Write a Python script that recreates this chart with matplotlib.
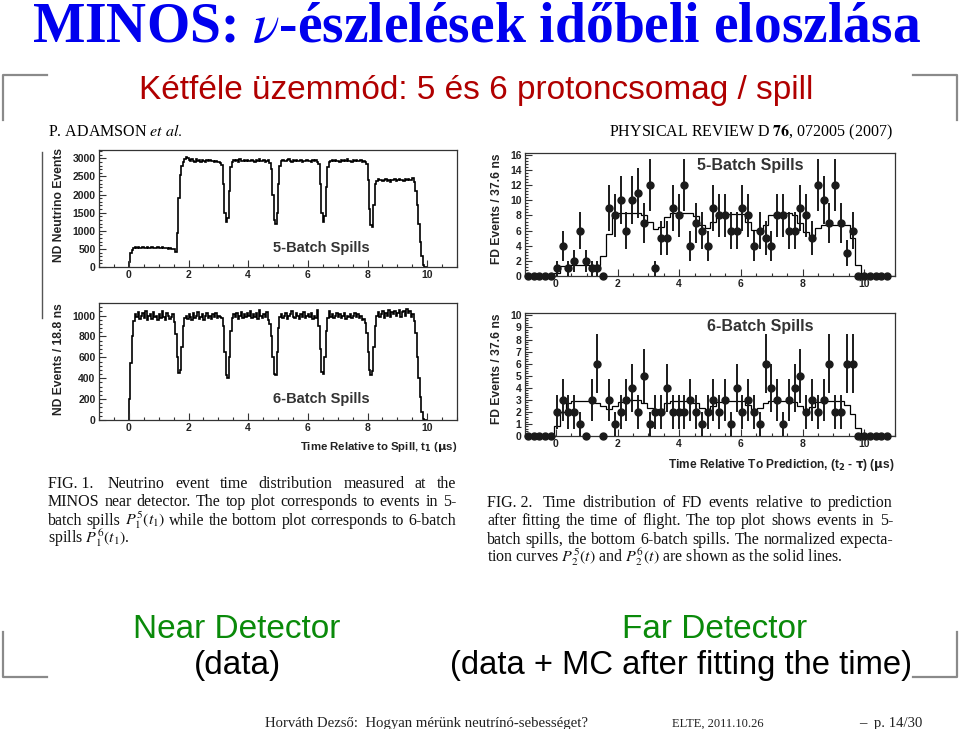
import numpy as np
import matplotlib
matplotlib.use('Agg')
import matplotlib.pyplot as plt
from matplotlib.ticker import MultipleLocator

# ---- data ----
# ND histograms, 0.05 us bins starting at t = 0
nd_t0, nd_dt = 0.0, 0.05
nd5_events = [
    150, 380, 470, 520, 540, 525, 545, 530, 520, 545, 535, 525, 540, 520, 530, 545, 525, 535, 520, 540,
    530, 515, 540, 525, 520, 535, 510, 525, 500, 505, 490, 420, 950, 1900, 2550, 2800, 2900, 2980, 3050, 3000,
    2960, 2920, 2990, 2940, 2910, 2970, 2930, 2950, 2900, 2960, 2940, 2910, 2950, 2930, 2960, 2920, 2940, 2900, 2930, 2910,
    2910, 2880, 2820, 2300, 1500, 1250, 1350, 2100, 2750, 2900, 2950, 2930, 2950, 2910, 2970, 2940, 2920, 2960, 2930, 2950,
    2940, 2920, 2960, 2930, 2910, 2950, 2930, 2970, 2920, 2940, 2960, 2910, 2930, 2950, 2880, 2700, 2000, 1300, 1180, 1500,
    2300, 2800, 2930, 2960, 2940, 2920, 2950, 2980, 2930, 2910, 2950, 2940, 2960, 2920, 2930, 2950, 2910, 2940, 2930, 2960,
    2920, 2940, 2910, 2950, 2930, 2960, 2900, 2850, 2300, 1500, 1250, 1400, 2200, 2750, 2900, 2940, 2960, 2920, 2950, 2930,
    2940, 2910, 2960, 2930, 2950, 2920, 2970, 2930, 2940, 2910, 2950, 2930, 2960, 2920, 2940, 2950, 2900, 2930, 2900, 2850,
    2400, 1600, 1150, 1100, 1700, 2300, 2380, 2420, 2390, 2410, 2370, 2400, 2430, 2380, 2400, 2360, 2410, 2390, 2420, 2380,
    2400, 2430, 2390, 2410, 2370, 2420, 2400, 2440, 2390, 2410, 2450, 2350, 2100, 1700, 1200, 700, 300, 50, 0, 0,
]
nd6_events = [
    200, 550, 800, 950, 1010, 990, 1030, 970, 1000, 1020, 980, 1040, 960, 1000, 1010, 970, 1030, 990, 1000, 960,
    1010, 980, 1040, 990, 960, 1020, 1000, 970, 990, 1010, 940, 820, 600, 450, 480, 700, 900, 980, 1000, 970,
    1010, 990, 960, 1020, 980, 1000, 1030, 970, 990, 1010, 960, 1000, 1020, 980, 1000, 970, 1010, 990, 1020, 980,
    1000, 990, 980, 900, 650, 430, 400, 600, 850, 980, 1010, 990, 1020, 970, 1000, 1030, 980, 1010, 990, 1020,
    1000, 1040, 980, 1010, 990, 1020, 970, 1050, 1000, 980, 1010, 990, 1030, 960, 920, 800, 600, 440, 430, 650,
    880, 990, 1010, 980, 1000, 1020, 970, 1000, 1010, 1040, 990, 980, 1020, 1000, 970, 1010, 990, 1030, 980, 1000,
    1010, 990, 1020, 970, 1000, 980, 1050, 900, 680, 460, 440, 600, 850, 980, 1040, 990, 1010, 980, 1000, 1020,
    990, 1010, 980, 1000, 1020, 970, 1000, 990, 1010, 980, 1000, 1020, 990, 1010, 980, 1000, 960, 970, 930, 830,
    650, 480, 430, 470, 700, 900, 1000, 1030, 990, 1010, 1040, 980, 1020, 1000, 1050, 990, 1030, 1010, 1040, 1000,
    1020, 1050, 990, 1030, 1040, 1000, 1060, 1020, 1040, 990, 1010, 950, 830, 600, 400, 220, 80, 10, 0, 0,
]

# FD, 0.188 us bins starting at t = -1
fd_t0, fd_dt = -1.0, 0.188
fd5_counts = [0, 0, 0, 0, 0,
              1, 4, 1, 2, 6, 2, 1, 1, 0,
              9, 8, 10, 6, 10, 11, 7, 12,
              1, 5, 5, 9, 8, 12, 4, 7,
              6, 4, 9, 8, 8, 6, 6, 9,
              8, 4, 6, 5, 4, 8, 8, 6,
              6, 9, 8, 5, 12, 10, 7, 12,
              7, 3, 6,
              0, 0, 0, 0, 0, 0]
fd5_mc = [0, 0, 0, 0, 0,
          0.4, 1.3, 1.5, 1.5, 1.5, 1.5, 1.5, 1.5,
          2.6, 5.6, 7.8, 8.3, 8.3, 8.3, 8.3,
          8.0, 7.2, 6.2, 6.5, 7.8, 8.3, 8.3, 8.3, 8.3,
          7.9, 6.8, 6.3, 7.2, 8.1, 8.2, 8.2, 8.2, 8.2,
          7.2, 6.1, 5.9, 6.8, 8.0, 8.3, 8.3, 8.3,
          8.1, 7.0, 5.8, 5.4, 6.3, 6.8, 6.8, 6.8, 6.8, 6.8,
          5.0, 1.5, 0.2, 0, 0, 0, 0, 0]
fd6_counts = [0, 0, 0, 0, 0,
              2, 3, 2, 2, 1, 0, 3, 6,
              0, 3, 1, 2, 3, 4, 2, 5,
              1, 2, 2, 4, 2, 2, 2, 3,
              2, 1, 2, 3, 2, 3, 1, 4,
              2, 3, 2, 1, 6, 4, 3, 1,
              3, 4, 5, 2, 3, 2, 3, 6,
              2, 2, 6, 6,
              0, 0, 0, 0, 0, 0]
fd6_mc = [0, 0, 0, 0, 0,
          0.8, 2.0, 2.7, 2.9, 2.9, 2.9, 2.9,
          2.75, 2.45, 2.2, 2.5, 2.85, 2.95, 2.95, 2.95,
          2.75, 2.3, 2.0, 2.25, 2.7, 2.9, 2.9, 2.9, 2.9,
          2.75, 2.35, 2.05, 2.5, 2.85, 2.9, 2.9, 2.9, 2.9,
          2.6, 2.2, 2.3, 2.7, 2.9, 2.9, 2.9, 2.9,
          2.85, 2.45, 2.2, 2.4, 2.8, 2.9, 2.9, 2.9, 2.9,
          2.6, 1.8, 0.7, 0.1, 0, 0, 0, 0, 0]

x_ticks = [0, 2, 4, 6, 8, 10]
nd5_yticks = [0, 500, 1000, 1500, 2000, 2500, 3000]
nd6_yticks = [0, 200, 400, 600, 800, 1000]
fd5_yticks = [0, 2, 4, 6, 8, 10, 12, 14, 16]
fd6_yticks = [0, 1, 2, 3, 4, 5, 6, 7, 8, 9, 10]

caption1 = ["FIG.\u00a01.\u00a0 Neutrino event time distribution measured at the",
            "MINOS near detector. The top plot corresponds to events in 5-",
            "batch spills $P_1^5(t_1)$ while the bottom plot corresponds to 6-batch",
            "spills $P_1^6(t_1)$."]
caption2 = ["FIG.\u00a02.\u00a0 Time distribution of FD events relative to prediction",
            "after fitting the time of flight. The top plot shows events in 5-",
            "batch spills, the bottom 6-batch spills. The normalized expecta-",
            "tion curves $P_2^5(t)$ and $P_2^6(t)$ are shown as the solid lines."]

# ---- figure ----
W, H = 960, 729
fig = plt.figure(figsize=(W / 100, H / 100), dpi=100)
fig.patch.set_facecolor('white')
SANS = 'Liberation Sans'
SERIF = 'Liberation Serif'


def ptxt(x, y, s, **kw):
    return fig.text(x / W, 1 - y / H, s, **kw)


def add_ax(l, t, r, b):
    return fig.add_axes([l / W, 1 - b / H, (r - l) / W, (b - t) / H])


def root_style(ax, yticks, yminor, ymax):
    ax.set_xlim(-1, 11)
    ax.set_ylim(0, ymax)
    ax.set_xticks(x_ticks)
    ax.set_xticklabels([str(v) for v in x_ticks], fontweight='bold', family=SANS, fontsize=7.5, color='#222')
    ax.set_yticks(yticks)
    ax.set_yticklabels([str(v) for v in yticks], fontweight='bold', family=SANS, fontsize=7.5, color='#222')
    ax.xaxis.set_minor_locator(MultipleLocator(0.5))
    ax.yaxis.set_minor_locator(MultipleLocator(yminor))
    ax.tick_params(which='both', direction='in', top=False, right=False, color='#333', width=0.8, pad=2.5)
    ax.tick_params(which='major', length=5)
    ax.tick_params(which='minor', length=2.5)
    for s in ax.spines.values():
        s.set_color('#333')
        s.set_linewidth(0.9)


def nd_panel(ax, events):
    edges = nd_t0 + nd_dt * np.arange(len(events) + 1)
    ax.stairs(events, edges, color='black', lw=1.2)


def fd_panel(ax, counts, mc):
    counts = np.array(counts, dtype=float)
    centers = fd_t0 + fd_dt * (np.arange(len(counts)) + 0.5)
    edges = fd_t0 + fd_dt * np.arange(len(mc) + 1)
    ax.stairs(mc, edges, color='black', lw=0.9)
    ax.errorbar(centers, counts, yerr=np.sqrt(counts), fmt='o', color='#1a1a1a',
                ms=5, elinewidth=1.4, capsize=0, clip_on=False, zorder=3)


ax1 = add_ax(99, 150, 457, 267)
nd_panel(ax1, nd5_events)
root_style(ax1, nd5_yticks, 100, 3230)

ax2 = add_ax(99, 303, 457, 420)
nd_panel(ax2, nd6_events)
root_style(ax2, nd6_yticks, 40, 1120)

ax3 = add_ax(525, 153, 895, 276)
fd_panel(ax3, fd5_counts, fd5_mc)
root_style(ax3, fd5_yticks, 0.4, 16.25)

ax4 = add_ax(525, 313, 895, 436)
fd_panel(ax4, fd6_counts, fd6_mc)
root_style(ax4, fd6_yticks, 0.2, 10.2)

# panel labels
lab = dict(family=SANS, fontweight='bold', color='#222')
ptxt(59, 148, 'ND Neutrino Events', rotation=90, ha='center', va='top', fontsize=8.7, **lab)
ptxt(59, 303, 'ND Events / 18.8 ns', rotation=90, ha='center', va='top', fontsize=8.7, **lab)
ptxt(497, 153, 'FD Events / 37.6 ns', rotation=90, ha='center', va='top', fontsize=8.7, **lab)
ptxt(497, 313, 'FD Events / 37.6 ns', rotation=90, ha='center', va='top', fontsize=8.7, **lab)
ptxt(457, 450, r'Time Relative to Spill, t$_{\mathbf{1}}$ ($\mathbf{\mu}$s)', ha='right', va='baseline',
     fontsize=8.2, math_fontfamily='dejavusans', **lab)
ptxt(895, 468, r'Time Relative To Prediction, (t$_{\mathbf{2}}$ - $\mathbf{\tau}$) ($\mathbf{\mu}$s)', ha='right',
     va='baseline', fontsize=8.6, math_fontfamily='dejavusans', **lab)
spl = dict(family=SANS, fontweight='bold', color='#333', va='baseline')
ptxt(273, 252, '5-Batch Spills', fontsize=10.5, **spl)
ptxt(273, 403, '6-Batch Spills', fontsize=10.5, **spl)
ptxt(697, 170, '5-Batch Spills', fontsize=11.5, **spl)
ptxt(707, 331, '6-Batch Spills', fontsize=11.5, **spl)

# paper header
ptxt(48, 136, r'P. ADAMSON $\mathit{et\ al.}$', family=SERIF, fontsize=11.5, va='baseline',
     math_fontfamily='stix')
ptxt(893, 136, r'PHYSICAL REVIEW D $\mathbf{76}$, 072005 (2007)', family=SERIF, fontsize=11.5,
     va='baseline', ha='right', math_fontfamily='stix')


def justify(lines, x0, x1, y0, dy, size):
    r = fig.canvas.get_renderer()
    kw = dict(family=SERIF, fontsize=size, va='baseline', math_fontfamily='stix', color='#111')
    for i, line in enumerate(lines):
        y = y0 + i * dy
        if i == len(lines) - 1:
            ptxt(x0, y, line, **kw)
            continue
        words = line.split(' ')
        items = [ptxt(x0, y, w, **kw) for w in words]
        widths = [t.get_window_extent(renderer=r).width for t in items]
        gap = (x1 - x0 - sum(widths)) / (len(words) - 1)
        x = x0
        for t, w in zip(items, widths):
            t.set_x(x / W)
            x += w + gap


justify(caption1, 48, 456, 488, 18.4, 11.5)
justify(caption2, 487, 893, 507, 18.4, 11.5)

# slide texts
ptxt(476, 42, r'MINOS: $\nu$-észlelések időbeli eloszlása', family=SERIF, fontweight='bold',
     fontsize=40, color='#0000ee', ha='center', va='baseline', math_fontfamily='stix')
ptxt(476, 99, 'Kétféle üzemmód: 5 és 6 protoncsomag / spill', family=SANS, fontsize=24,
     color='#b00000', ha='center', va='baseline')
ptxt(237, 638, 'Near Detector', family=SANS, fontsize=24, color='#0a8a0a', ha='center', va='baseline')
ptxt(237, 674, '(data)', family=SANS, fontsize=24, color='black', ha='center', va='baseline')
ptxt(715, 638, 'Far Detector', family=SANS, fontsize=24, color='#0a8a0a', ha='center', va='baseline')
ptxt(681, 674, '(data + MC after fitting the time)', family=SANS, fontsize=23.6, color='black',
     ha='center', va='baseline')

foot = dict(family=SERIF, color='#222', va='baseline')
ptxt(265, 727, 'Horváth Dezső:  Hogyan mérünk neutrínó-sebességet?', fontsize=10.6, **foot)
ptxt(672, 727, 'ELTE, 2011.10.26', fontsize=9.0, **foot)
ptxt(922, 727, '–  p. 14/30', ha='right', fontsize=10.6, **foot)

# corner brackets and scan line
gray = dict(color='#8a8a8a', lw=1.6, transform=fig.transFigure)
for xs, ys in [([3, 3, 47], [120, 75, 75]), ([913, 957, 957], [75, 75, 120]),
               ([3, 3, 47], [632, 677, 677]), ([913, 957, 957], [677, 677, 632])]:
    fig.add_artist(plt.Line2D([x / W for x in xs], [1 - y / H for y in ys], **gray))
fig.add_artist(plt.Line2D([42 / W, 42 / W], [1 - 152 / H, 1 - 318 / H], color='#555', lw=1.0,
                          transform=fig.transFigure))

fig.savefig('out.png', dpi=100, facecolor='white')
